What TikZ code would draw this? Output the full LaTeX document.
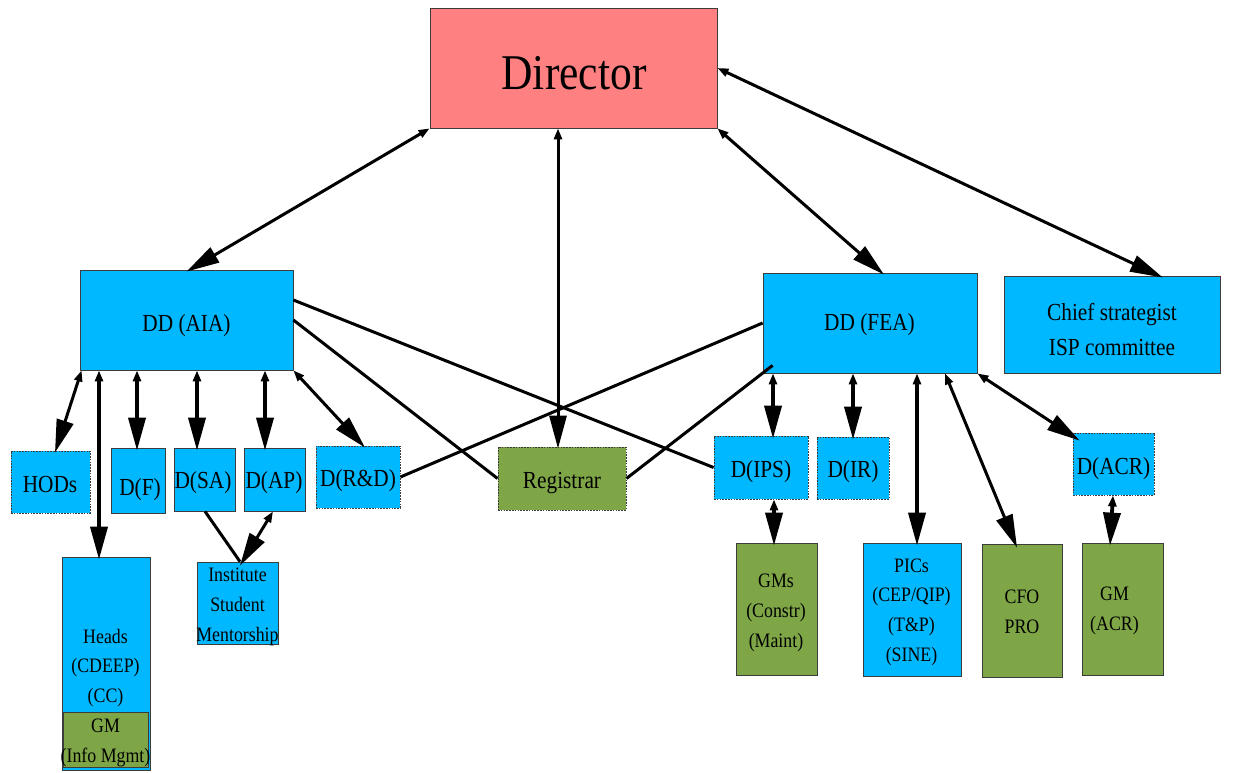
\documentclass[tikz,border=0pt]{standalone}
\usepackage{fontspec}
\setmainfont{Liberation Serif}[FakeStretch=0.87]
\usetikzlibrary{arrows.meta,calc}
\definecolor{bluef}{RGB}{0,184,255}
\definecolor{greenf}{RGB}{126,166,71}
\definecolor{redf}{RGB}{255,128,128}
\definecolor{edgec}{RGB}{60,60,60}
\begin{document}
\begin{tikzpicture}[x=1pt,y=-1pt,
 box/.style={rectangle, draw=edgec, line width=0.8pt, inner sep=0pt},
 bluebox/.style={box, fill=bluef},
 greenbox/.style={box, fill=greenf},
 dbox/.style={dash pattern=on 1.6pt off 1.2pt},
 txt/.style={inner sep=0pt, align=center},
 fbig/.style={txt, font=\fontsize{50}{60}\selectfont},
 fmed/.style={txt, font=\fontsize{24.5}{35}\selectfont},
 fsmall/.style={txt, font=\fontsize{20.5}{29.7}\selectfont},
 link/.style={line width=3pt, {Triangle[length=11pt,width=8pt]}-{Triangle[length=33pt,width=17pt]}},
 tlink/.style={link, line width=3.8pt},
 plainline/.style={line width=3pt}]
\useasboundingbox (0,0) rectangle (1233,772);

% boxes
\node[box, fill=redf, minimum width=287pt, minimum height=120pt] (dir) at (573.5,68) {};
\node[bluebox, minimum width=213pt, minimum height=100pt] (aia) at (186.5,320) {};
\node[bluebox, minimum width=214pt, minimum height=100pt] (fea) at (870,323) {};
\node[bluebox, minimum width=216pt, minimum height=97pt] (chief) at (1112,324.5) {};
\node[bluebox, dbox, minimum width=79pt, minimum height=62pt] (hods) at (50.5,482) {};
\node[bluebox, minimum width=54pt, minimum height=65pt] (df) at (138,480.5) {};
\node[bluebox, minimum width=61pt, minimum height=63pt] (dsa) at (204.5,479.5) {};
\node[bluebox, minimum width=61pt, minimum height=63pt] (dap) at (274.5,479.5) {};
\node[bluebox, dbox, minimum width=84pt, minimum height=62pt] (drd) at (358,477) {};
\node[greenbox, dbox, minimum width=128pt, minimum height=63pt] (reg) at (562,478.5) {};
\node[bluebox, dbox, minimum width=94pt, minimum height=63pt] (dips) at (761,467.5) {};
\node[bluebox, dbox, minimum width=72pt, minimum height=62pt] (dirr) at (853,468) {};
\node[bluebox, dbox, minimum width=81pt, minimum height=62pt] (dacr) at (1113.5,464) {};
\node[bluebox, minimum width=88pt, minimum height=213pt] (heads) at (106,663.5) {};
\node[greenbox, minimum width=85pt, minimum height=55pt] (gmim) at (105.5,739.5) {};
\node[bluebox, minimum width=81pt, minimum height=82pt] (ism) at (237.5,603) {};
\node[greenbox, minimum width=81pt, minimum height=132pt] (gms) at (776.5,609) {};
\node[bluebox, minimum width=98pt, minimum height=133pt] (pics) at (912,609.5) {};
\node[greenbox, minimum width=80pt, minimum height=133pt] (cfo) at (1022,610.5) {};
\node[greenbox, minimum width=81pt, minimum height=132pt] (gmacr) at (1122.5,609) {};

% texts
\node[fbig] (dirt) at (574,73) {Director};
\node[fmed] (aiat) at (186.5,326) {DD (AIA)};
\node[fmed] (feat) at (869.5,325) {DD (FEA)};
\node[fmed] (chieft) at (1112,329) {Chief strategist\\ISP committee};
\node[fmed] (hodst) at (50,484) {HODs};
\node[fmed] (dft) at (140,490) {D(F)};
\node[fmed] (dsat) at (203,483) {D(SA)};
\node[fmed] (dapt) at (274,483) {D(AP)};
\node[fmed] (drdt) at (358,481) {D(R\&D)};
\node[fmed] (regt) at (562,483) {Registrar};
\node[fmed] (dipst) at (761,472) {D(IPS)};
\node[fmed] (dirrt) at (853,472) {D(IR)};
\node[fmed] (dacrt) at (1113.5,469) {D(ACR)};
\node[fsmall] (headst) at (105.5,668) {Heads\\(CDEEP)\\(CC)};
\node[fsmall] (gmimt) at (105.5,743) {GM\\(Info Mgmt)};
\node[fsmall] (ismt) at (237.5,607) {Institute\\Student\\Mentorship};
\node[fsmall] (gmst) at (776,613) {GMs\\(Constr)\\(Maint)};
\node[fsmall] (picst) at (911.5,612) {PICs\\(CEP/QIP)\\(T\&P)\\(SINE)};
\node[fsmall] (cfot) at (1022,611.5) {CFO\\PRO};
\node[fsmall] (gmacrt) at (1114.5,611) {GM\\(ACR)};

% connectors from Director
\draw[link] (dir.south west) -- ($(aia.north)+(0,2)$);
\draw[link] ($(dir.south)+(-15.5,0)$) -- ($(reg.north)+(-4,2)$);
\draw[link] (dir.south east) -- ($(fea.north)+(14,2)$);
\draw[link] (dir.east) -- ($(chief.north)+(51,2)$);

% DD (AIA)
\draw[link] ($(aia.south west)+(2,0)$) -- ($(hods.north)+(4.5,2)$);
\draw[tlink] ($(aia.south)+(-87.5,0)$) -- ($(heads.north)+(-7,3)$);
\draw[tlink] ($(aia.south)+(-49.5,0)$) -- ($(df.north)+(-1,3)$);
\draw[tlink] ($(aia.south)+(10.5,0)$) -- ($(dsa.north)+(-7.5,3)$);
\draw[tlink] ($(aia.south)+(78.5,0)$) -- ($(dap.north)+(-9.5,3)$);
\draw[link] (aia.south east) -- ($(drd.north)+(7,2)$);
\draw[plainline] ($(dsa.south)+(0.5,0)$) -- ($(ism.north)+(2.5,0)$);
\draw[link] ($(dap.south)+(-1.5,0)$) -- ($(ism.north)+(2.5,4)$);
\draw[plainline] ($(aia.east)+(0,-20)$) -- (dips.west);
\draw[plainline] (aia.east) -- (reg.west);

% crossing lines to DD (FEA)
\draw[plainline] (drd.east) -- (fea.west);
\draw[plainline] (reg.east) -- ($(fea.south west)+(10,-8)$);

% DD (FEA)
\draw[tlink] ($(fea.south)+(-97,0)$) -- ($(dips.north)+(12,3)$);
\draw[tlink] ($(fea.south)+(-17,0)$) -- ($(dirr.north)+(0,3)$);
\draw[tlink] ($(fea.south)+(47,0)$) -- ($(pics.north)+(5,3)$);
\draw[link] ($(fea.south)+(75,0)$) -- ($(cfo.north)+(-5,4)$);
\draw[link] (fea.south east) -- ($(dacr.north west)+(7,8)$);

% lower
\draw[tlink] ($(dips.south)+(13,0)$) -- ($(gms.north)+(-2.5,3)$);
\draw[tlink] ($(dacr.south)+(-0.5,0)$) -- ($(gmacr.north)+(-12.5,3)$);
\end{tikzpicture}
\end{document}
